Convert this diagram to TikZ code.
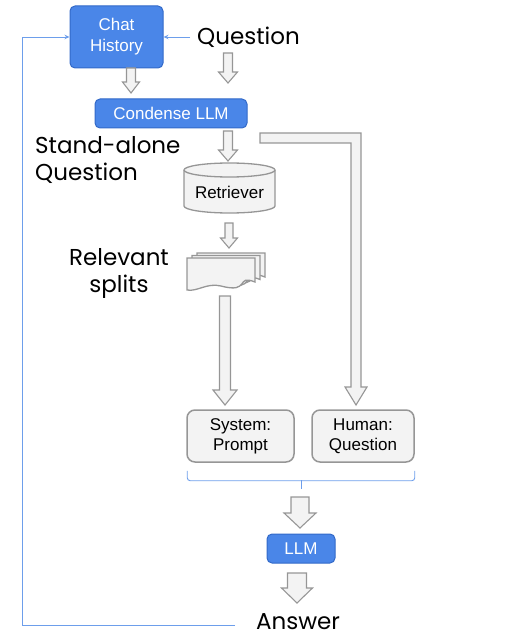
\documentclass[tikz,border=0pt]{standalone}
\usepackage{fontspec}
\setmainfont{Liberation Sans}
\newfontfamily\popfont{Poppins}
\usetikzlibrary{calc,arrows.meta}
\definecolor{bfill}{RGB}{74,134,232}
\definecolor{bdraw}{RGB}{50,105,200}
\definecolor{lblue}{RGB}{109,158,235}
\definecolor{gfill}{RGB}{243,243,243}
\definecolor{gdraw}{RGB}{150,150,150}
\tikzset{
  bluebox/.style={rounded corners=5pt, fill=bfill, draw=bdraw, line width=1pt, text=white,
    font=\fontsize{17}{21}\selectfont, align=center, inner sep=0pt},
  graybox/.style={rounded corners=8pt, fill=gfill, draw=gdraw, line width=1.5pt, text=black,
    font=\fontsize{17}{20}\selectfont, align=center, inner sep=0pt, minimum height=52pt},
  lbl/.style={font=\popfont\fontsize{23}{27}\selectfont, inner sep=0pt, text=black},
  blockarr/.style={draw=gdraw, fill=gfill, line width=1.1pt, line join=miter},
  thinblue/.style={draw=lblue, line width=0.9pt},
  docpage/.style={draw=gdraw, fill=gfill, line width=1.3pt}
}
\newcommand\barrow[5]{\draw[blockarr] ($(#1)+(-#3,0)$) -- ($(#2)+(-#3,-#5)$) -- ($(#2)+(-#4,-#5)$) -- (#2) -- ($(#2)+(#4,-#5)$) -- ($(#2)+(#3,-#5)$) -- ($(#1)+(#3,0)$) -- cycle;}
\newcommand\docpg[2]{\draw[docpage] (#1,#2) -- ++(68,0) -- ++(0,24) .. controls ++(-20,-8) and ++(30,8) .. ++(-34,4) .. controls ++(-14,-3.5) and ++(10,2) .. ++(-34,4) -- cycle;}
\begin{document}
\begin{tikzpicture}[x=1pt,y=-1pt]
\useasboundingbox (0,0) rectangle (512,639);
% nodes
\node[bluebox, minimum width=93pt, minimum height=62pt] (chat) at (116.5,37) {Chat\\History};
\node[lbl, anchor=west] (q) at (197,37) {Question};
\node[bluebox, minimum width=152pt, minimum height=29pt] (condense) at (171,113.5) {Condense LLM};
\node[lbl, align=left, anchor=west] (sa) at (35,160) {Stand-alone\\Question};
% retriever cylinder
\draw[docpage] (184,170) -- (184,206) arc[start angle=180, end angle=0, x radius=45.5, y radius=7] -- (275,170) arc[start angle=0, end angle=-180, x radius=45.5, y radius=7] -- cycle;
\draw[docpage] (184,170) arc[start angle=180, end angle=0, x radius=45.5, y radius=7];
\node[font=\fontsize{17}{20}\selectfont, inner sep=0pt] (ret) at (229.5,192) {Retriever};
% splits
\docpg{197}{253}
\docpg{192}{255.5}
\docpg{187}{258}
\coordinate (splits) at (221,274);
\node[lbl, align=center] (rel) at (119,273) {Relevant\\splits};
\node[graybox, minimum width=107pt] (sys) at (240.5,436) {System:\\Prompt};
\node[graybox, minimum width=102pt] (hum) at (363,436) {Human:\\Question};
\node[bluebox, minimum width=68pt, minimum height=29pt] (llm) at (301,548.5) {LLM};
\node[lbl] (ans) at (298,622) {Answer};
% thin blue connectors
\coordinate (fb) at (235,625);
\draw[thinblue, -{Stealth[length=5pt,width=4.5pt]}] ([xshift=-7pt]q.west) -- (chat.east);
\draw[thinblue, -{Stealth[length=5pt,width=4.5pt]}] (fb) -- (22,625) |- (chat.west);
% brace
\draw[thinblue, rounded corners=3pt] ($(sys.south west)+(1,8)$) -- ++(0,10) -| ($(hum.south east)+(0,8)$);
\draw[thinblue] (301,480) -- (301,489);
% block arrows
\coordinate (a1s) at (131,68); \coordinate (a1t) at (131,93);
\barrow{a1s}{a1t}{4.5}{8.5}{11}
\coordinate (a2s) at (228,53); \coordinate (a2t) at (228,83);
\barrow{a2s}{a2t}{4.5}{9.5}{11}
\coordinate (a3s) at (228,131); \coordinate (a3t) at (228,161);
\barrow{a3s}{a3t}{4.5}{9.5}{11}
\coordinate (a4s) at (229,223); \coordinate (a4t) at (229,248);
\barrow{a4s}{a4t}{4}{8.5}{10}
\coordinate (a5s) at (225,296); \coordinate (a5t) at (225,405);
\barrow{a5s}{a5t}{5.5}{12}{15}
\coordinate (a7s) at (300,497); \coordinate (a7t) at (300,528);
\barrow{a7s}{a7t}{9}{16}{15}
\coordinate (a8s) at (297,573); \coordinate (a8t) at (297,603);
\barrow{a8s}{a8t}{9.5}{15.5}{15}
% bent arrow condense -> human
\draw[blockarr] (260,133) -- (361,133) -- (361,387) -- (367,387) -- (356,405) -- (345,387) -- (351,387) -- (351,143) -- (260,143) -- cycle;
\end{tikzpicture}
\end{document}
